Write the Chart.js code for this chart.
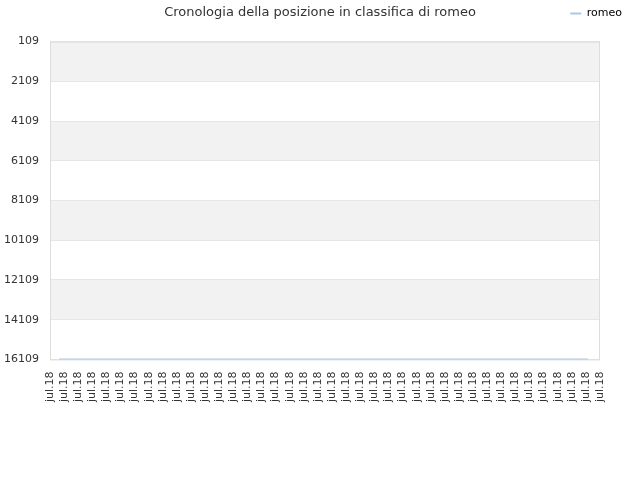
<!DOCTYPE html>
<html>
<head>
<meta charset="utf-8">
<script src="https://cdn.jsdelivr.net/npm/chart.js@4/dist/chart.umd.min.js"></script>
<style>
  html, body { margin: 0; padding: 0; background: #fff; }
  #wrap { width: 640px; height: 480px; position: relative; }
</style>
</head>
<body>
<div id="wrap"><canvas id="rankCanvas"></canvas></div>
<script>
// etichette asse x (una per giorno)
const xLabels = ["jul.18","jul.18","jul.18","jul.18","jul.18","jul.18","jul.18","jul.18","jul.18","jul.18",
  "jul.18","jul.18","jul.18","jul.18","jul.18","jul.18","jul.18","jul.18","jul.18","jul.18",
  "jul.18","jul.18","jul.18","jul.18","jul.18","jul.18","jul.18","jul.18","jul.18","jul.18",
  "jul.18","jul.18","jul.18","jul.18","jul.18","jul.18","jul.18","jul.18","jul.18","jul.18"];
const yTicks = [109, 2109, 4109, 6109, 8109, 10109, 12109, 14109, 16109];

// serie: posizione di romeo
const seriesName = "romeo";
const dayPos = [0.65, 38.15];
const rankValues = [16109, 16109];

const points = dayPos.map((d, i) => ({ x: d, y: rankValues[i] }));

// bande alternate + cornice dell'area del grafico
const bandsPlugin = {
  id: 'bands',
  beforeDraw(chart) {
    const { ctx, chartArea: a, scales: { y } } = chart;
    ctx.save();
    ctx.fillStyle = '#f2f2f2';
    for (let i = 0; i < yTicks.length - 1; i += 2) {
      const t = y.getPixelForValue(yTicks[i]);
      const b = y.getPixelForValue(yTicks[i + 1]);
      ctx.fillRect(a.left, t, a.right - a.left, b - t);
    }
    ctx.restore();
  },
  beforeDatasetsDraw(chart) {
    const { ctx, chartArea: a } = chart;
    ctx.save();
    ctx.strokeStyle = '#dddddd';
    ctx.lineWidth = 1;
    ctx.strokeRect(a.left + 0.5, a.top + 0.5, a.right - a.left - 1, a.bottom - a.top);
    ctx.restore();
  },
  afterLayout(chart) {
    // titolo centrato sulla pagina
    const tb = chart.titleBlock;
    tb.left = 0;
    tb.right = chart.width;
    // legenda sulla stessa riga del titolo, in alto a destra
    const lg = chart.legend;
    const h = lg.bottom - lg.top;
    lg.top = 3;
    lg.bottom = 3 + h;
    lg.left += 27;
    lg.right += 27;
  }
};

new Chart(document.getElementById('rankCanvas'), {
  type: 'line',
  plugins: [bandsPlugin],
  data: {
    datasets: [{
      label: seriesName,
      data: points,
      borderColor: '#a7c9ea',
      backgroundColor: '#a7c9ea',
      borderWidth: 2,
      pointRadius: 0,
      tension: 0
    }]
  },
  options: {
    responsive: true,
    maintainAspectRatio: false,
    animation: false,
    layout: { padding: { left: -7, right: 40, top: 0, bottom: 74 } },
    plugins: {
      title: {
        display: true,
        text: 'Cronologia della posizione in classifica di romeo',
        color: '#333333',
        font: { family: 'DejaVu Sans', size: 13, weight: 'normal' },
        padding: { top: 5, bottom: -5 }
      },
      legend: {
        position: 'top',
        align: 'end',
        labels: {
          usePointStyle: true,
          pointStyle: 'line',
          pointStyleWidth: 11,
          color: '#000000',
          font: { family: 'DejaVu Sans', size: 11 },
          padding: 5
        }
      },
      tooltip: { enabled: false }
    },
    scales: {
      x: {
        type: 'linear',
        min: 0,
        max: xLabels.length - 1,
        grid: { display: false },
        border: { display: false },
        ticks: {
          stepSize: 1,
          autoSkip: false,
          minRotation: 90,
          maxRotation: 90,
          padding: 4,
          color: '#333333',
          font: { family: 'DejaVu Sans', size: 11 },
          callback: (v) => xLabels[v]
        }
      },
      y: {
        reverse: true,
        min: 109,
        max: 16109,
        afterBuildTicks(scale) {
          scale.ticks = yTicks.map(v => ({ value: v }));
        },
        grid: { color: '#e6e6e6', drawTicks: false },
        border: { display: false },
        ticks: {
          padding: 11,
          color: '#333333',
          font: { family: 'DejaVu Sans', size: 11 },
          callback: (v) => String(v)
        }
      }
    }
  }
});
</script>
</body>
</html>
